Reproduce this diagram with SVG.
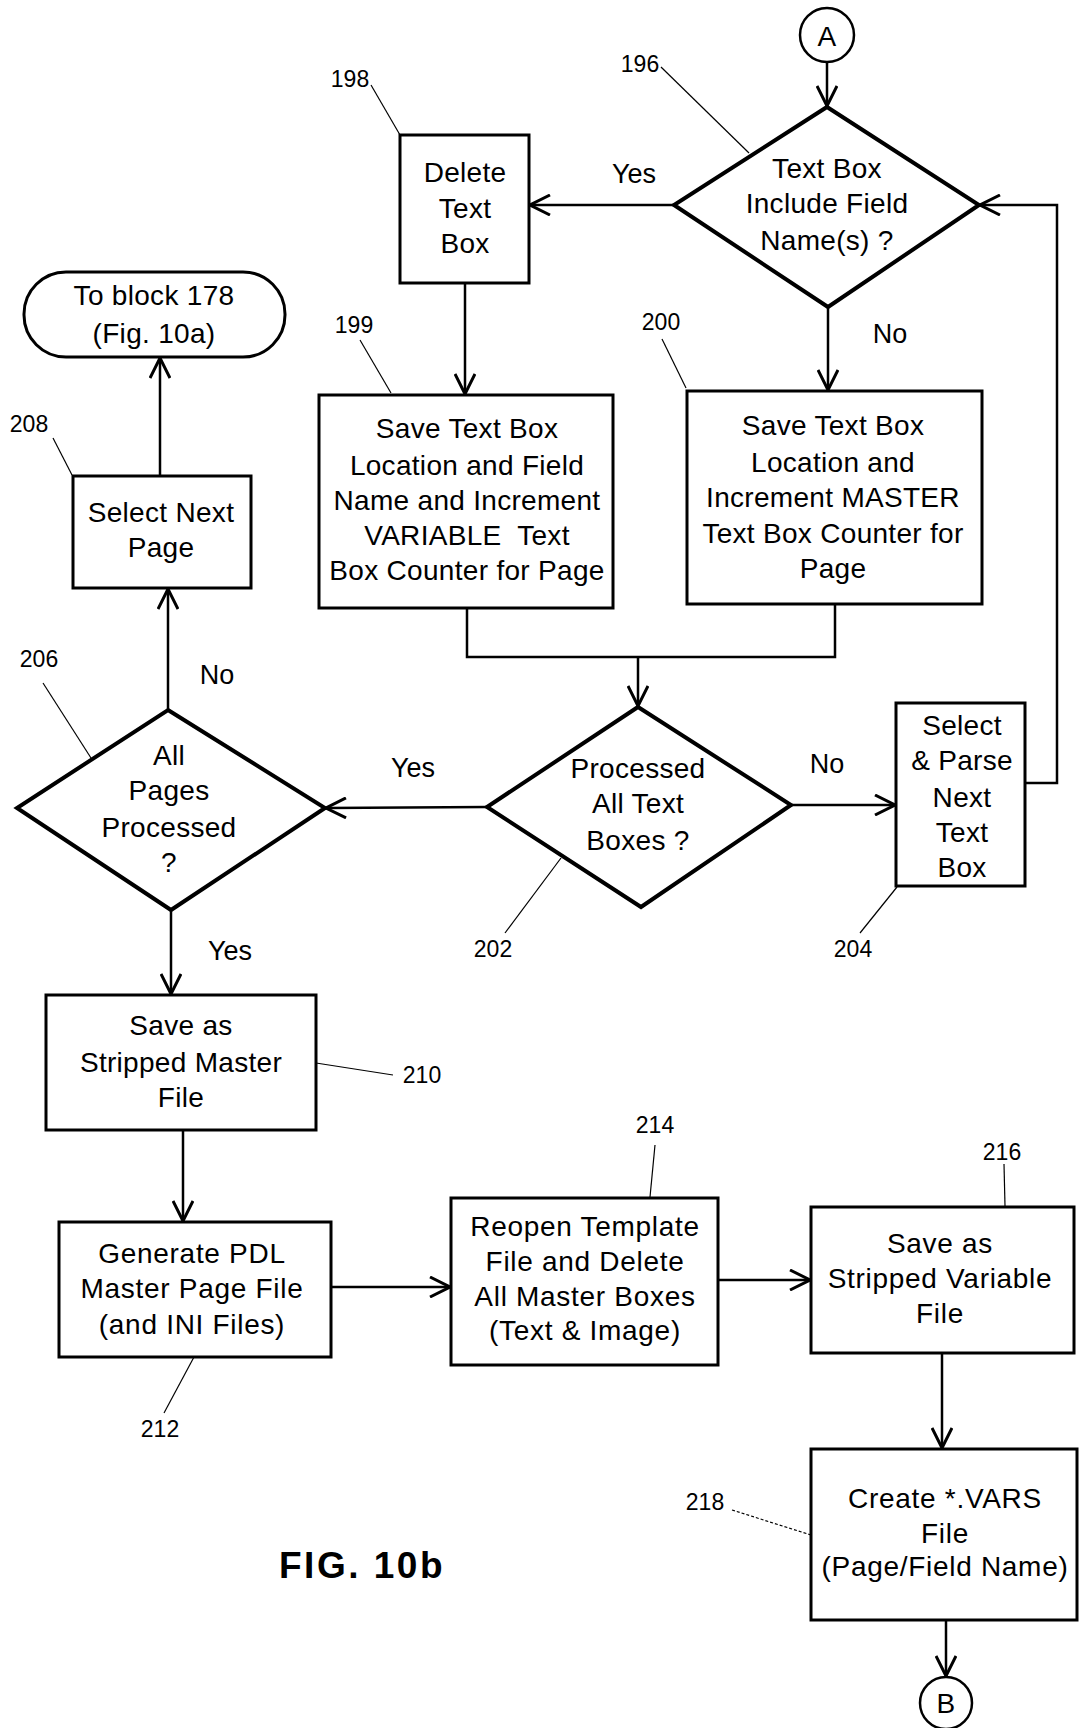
<svg xmlns="http://www.w3.org/2000/svg" width="1079" height="1728" viewBox="0 0 1079 1728">
<style>
text{font-family:"Liberation Sans",Arial,sans-serif;fill:#000;text-anchor:middle}
.t{font-size:28px;letter-spacing:0.3px}
.s{font-size:28px;letter-spacing:0.7px}
.lbl{font-size:27px}
.num{font-size:23px}
.box{fill:#fff;stroke:#000;stroke-width:3}
.dia{fill:#fff;stroke:#000;stroke-width:4;stroke-linejoin:miter}
.cn{fill:none;stroke:#000;stroke-width:2.5}
.ld{fill:none;stroke:#000;stroke-width:1.2}
</style>
<defs>
<marker id="ah" viewBox="0 0 22 22" refX="21" refY="11" markerWidth="22" markerHeight="22" markerUnits="userSpaceOnUse" orient="auto">
<path d="M1,1 L21,11 L1,21" fill="none" stroke="#000" stroke-width="3"/>
</marker>
</defs>
<rect width="1079" height="1728" fill="#fff"/>

<g id="connectors">
<line class="cn" x1="827" y1="62" x2="827" y2="106" marker-end="url(#ah)"/>
<line class="cn" x1="674" y1="205" x2="530" y2="205" marker-end="url(#ah)"/>
<line class="cn" x1="828" y1="307" x2="828" y2="390" marker-end="url(#ah)"/>
<line class="cn" x1="465" y1="283" x2="465" y2="394" marker-end="url(#ah)"/>
<polyline class="cn" points="467,608 467,657 835,657 835,604"/>
<line class="cn" x1="638" y1="657" x2="638" y2="706" marker-end="url(#ah)"/>
<line class="cn" x1="791" y1="805" x2="895" y2="805" marker-end="url(#ah)"/>
<polyline class="cn" points="1025,783 1057,783 1057,205 980,205" marker-end="url(#ah)"/>
<line class="cn" x1="487" y1="807" x2="326" y2="808" marker-end="url(#ah)"/>
<line class="cn" x1="168" y1="710" x2="168" y2="589" marker-end="url(#ah)"/>
<line class="cn" x1="160" y1="476" x2="160" y2="358" marker-end="url(#ah)"/>
<line class="cn" x1="171" y1="910" x2="171" y2="994" marker-end="url(#ah)"/>
<line class="cn" x1="183" y1="1130" x2="183" y2="1221" marker-end="url(#ah)"/>
<line class="cn" x1="331" y1="1287" x2="450" y2="1287" marker-end="url(#ah)"/>
<line class="cn" x1="718" y1="1280" x2="810" y2="1280" marker-end="url(#ah)"/>
<line class="cn" x1="942" y1="1353" x2="942" y2="1448" marker-end="url(#ah)"/>
<line class="cn" x1="946" y1="1620" x2="946" y2="1676" marker-end="url(#ah)"/>
<text class="lbl" x="634" y="183">Yes</text>
<text class="lbl" x="890" y="343">No</text>
<text class="lbl" x="827" y="773">No</text>
<text class="lbl" x="413" y="777">Yes</text>
<text class="lbl" x="217" y="684">No</text>
<text class="lbl" x="230" y="960">Yes</text>
</g>

<g id="connA">
<circle cx="827" cy="35" r="27" fill="#fff" stroke="#000" stroke-width="2.5"/>
<text class="t" x="827" y="46">A</text>
</g>

<g id="n196">
<polygon class="dia" points="827,107 979,205 828,307 674,205"/>
<text class="t" x="827" y="178">Text Box</text>
<text class="t" x="827" y="213">Include Field</text>
<text class="t" x="827" y="250">Name(s) ?</text>
<text class="num" x="640" y="72">196</text>
<line class="ld" x1="661" y1="67" x2="749" y2="153"/>
</g>

<g id="n198">
<rect class="box" x="400" y="135" width="129" height="148"/>
<text class="t" x="465" y="182">Delete</text>
<text class="t" x="465" y="218">Text</text>
<text class="t" x="465" y="253">Box</text>
<text class="num" x="350" y="87">198</text>
<line class="ld" x1="371" y1="85" x2="400" y2="135"/>
</g>

<g id="nterm">
<rect class="box" x="24" y="272" width="261" height="85" rx="42" ry="42"/>
<text class="t" x="154" y="305">To block 178</text>
<text class="t" x="154" y="343">(Fig. 10a)</text>
</g>

<g id="n199">
<rect class="box" x="319" y="395" width="294" height="213"/>
<text class="t" x="467" y="438">Save Text Box</text>
<text class="t" x="467" y="475">Location and Field</text>
<text class="t" x="467" y="510">Name and Increment</text>
<text class="t" x="467" y="545" xml:space="preserve">VARIABLE  Text</text>
<text class="t" x="467" y="580">Box Counter for Page</text>
<text class="num" x="354" y="333">199</text>
<line class="ld" x1="360" y1="340" x2="391" y2="393"/>
</g>

<g id="n200">
<rect class="box" x="687" y="391" width="295" height="213"/>
<text class="t" x="833" y="435">Save Text Box</text>
<text class="t" x="833" y="472">Location and</text>
<text class="t" x="833" y="507">Increment MASTER</text>
<text class="t" x="833" y="543">Text Box Counter for</text>
<text class="t" x="833" y="578">Page</text>
<text class="num" x="661" y="330">200</text>
<line class="ld" x1="662" y1="339" x2="686" y2="388"/>
</g>

<g id="n208">
<rect class="box" x="73" y="476" width="178" height="112"/>
<text class="t" x="161" y="522">Select Next</text>
<text class="t" x="161" y="557">Page</text>
<text class="num" x="29" y="432">208</text>
<line class="ld" x1="53" y1="438" x2="72" y2="475"/>
</g>

<g id="n202">
<polygon class="dia" points="638,707 791,805 641,907 487,807"/>
<text class="t" x="638" y="778">Processed</text>
<text class="t" x="638" y="813">All Text</text>
<text class="t" x="638" y="850">Boxes ?</text>
<text class="num" x="493" y="957">202</text>
<line class="ld" x1="505" y1="933" x2="561" y2="858"/>
</g>

<g id="n204">
<rect class="box" x="896" y="703" width="129" height="183"/>
<text class="t" x="962" y="735">Select</text>
<text class="t" x="962" y="770">&amp; Parse</text>
<text class="t" x="962" y="807">Next</text>
<text class="t" x="962" y="842">Text</text>
<text class="t" x="962" y="877">Box</text>
<text class="num" x="853" y="957">204</text>
<line class="ld" x1="860" y1="933" x2="897" y2="887"/>
</g>

<g id="n206">
<polygon class="dia" points="168,710 325,808 171,910 17,808"/>
<text class="t" x="169" y="765">All</text>
<text class="t" x="169" y="800">Pages</text>
<text class="t" x="169" y="837">Processed</text>
<text class="t" x="169" y="872">?</text>
<text class="num" x="39" y="667">206</text>
<line class="ld" x1="43" y1="683" x2="91" y2="758"/>
</g>

<g id="n210">
<rect class="box" x="46" y="995" width="270" height="135"/>
<text class="t" x="181" y="1035">Save as</text>
<text class="t" x="181" y="1072">Stripped Master</text>
<text class="t" x="181" y="1107">File</text>
<text class="num" x="422" y="1083">210</text>
<line class="ld" x1="316" y1="1063" x2="393" y2="1075"/>
</g>

<g id="n212">
<rect class="box" x="59" y="1222" width="272" height="135"/>
<text class="s" x="192" y="1263">Generate PDL</text>
<text class="s" x="192" y="1298">Master Page File</text>
<text class="s" x="192" y="1334">(and INI Files)</text>
<text class="num" x="160" y="1437">212</text>
<line class="ld" x1="194" y1="1357" x2="164" y2="1413"/>
</g>

<g id="n214">
<rect class="box" x="451" y="1198" width="267" height="167"/>
<text class="s" x="585" y="1236">Reopen Template</text>
<text class="s" x="585" y="1271">File and Delete</text>
<text class="s" x="585" y="1306">All Master Boxes</text>
<text class="s" x="585" y="1340">(Text &amp; Image)</text>
<text class="num" x="655" y="1133">214</text>
<line class="ld" x1="655" y1="1145" x2="650" y2="1197"/>
</g>

<g id="n216">
<rect class="box" x="811" y="1207" width="263" height="146"/>
<text class="s" x="940" y="1253">Save as</text>
<text class="s" x="940" y="1288">Stripped Variable</text>
<text class="s" x="940" y="1323">File</text>
<text class="num" x="1002" y="1160">216</text>
<line class="ld" x1="1004" y1="1164" x2="1005" y2="1206"/>
</g>

<g id="n218">
<rect class="box" x="811" y="1449" width="266" height="171"/>
<text class="s" x="945" y="1508">Create *.VARS</text>
<text class="s" x="945" y="1543">File</text>
<text class="s" x="945" y="1576">(Page/Field Name)</text>
<text class="num" x="705" y="1510">218</text>
<line class="ld" x1="732" y1="1510" x2="811" y2="1535" stroke-dasharray="3,2"/>
</g>

<g id="connB">
<circle cx="946" cy="1703" r="26" fill="#fff" stroke="#000" stroke-width="2.5"/>
<text class="t" x="946" y="1713">B</text>
</g>

<text x="362" y="1578" style="font-size:37px;font-weight:bold;letter-spacing:2.5px">FIG. 10b</text>
</svg>
